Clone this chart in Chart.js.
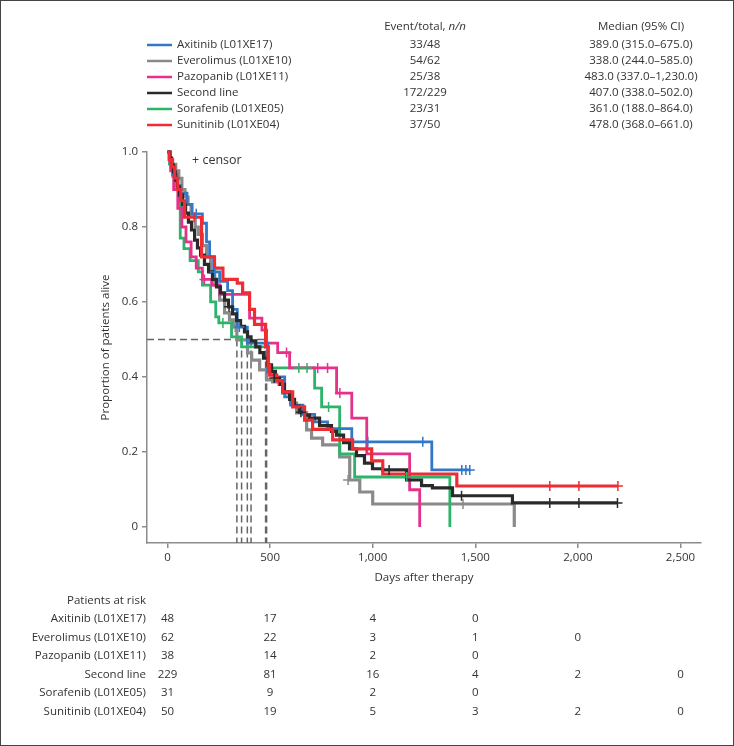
<!DOCTYPE html>
<html>
<head>
<meta charset="utf-8">
<script src="https://cdn.jsdelivr.net/npm/chart.js@4.4.1/dist/chart.umd.min.js"></script>
<style>
html, body { margin: 0; padding: 0; background: #fff; }
#wrap { position: relative; width: 734px; height: 746px; }
</style>
</head>
<body>
<div id="wrap"><canvas id="km" width="734" height="746"></canvas></div>
<script>
// groups, legend table and risk table
const groups = ['Axitinib (L01XE17)', 'Everolimus (L01XE10)', 'Pazopanib (L01XE11)', 'Second line', 'Sorafenib (L01XE05)', 'Sunitinib (L01XE04)'];
const eventsTotal = ['33/48', '54/62', '25/38', '172/229', '23/31', '37/50'];
const medianCI = ['389.0 (315.0\u2013675.0)', '338.0 (244.0\u2013585.0)', '483.0 (337.0\u20131,230.0)', '407.0 (338.0\u2013502.0)', '361.0 (188.0\u2013864.0)', '478.0 (368.0\u2013661.0)'];
const medianDays = [389, 338, 483, 407, 361, 478];
const xTicks = [0, 500, 1000, 1500, 2000, 2500];
const yTicks = [0, 0.2, 0.4, 0.6, 0.8, 1.0];
const atRisk = [
    [48, 17, 4, 0],
    [62, 22, 3, 1, 0],
    [38, 14, 2, 0],
    [229, 81, 16, 4, 2, 0],
    [31, 9, 2, 0],
    [50, 19, 5, 3, 2, 0]
];

// Kaplan-Meier steps [day, survival]
const axitinibKM = [[0,1],[12,0.97],[25,0.94],[45,0.91],[65,0.89],[95,0.86],[120,0.835],[170,0.81],[190,0.76],[205,0.72],[225,0.68],[254,0.655],[293,0.63],[317,0.58],[340,0.533],[389,0.49],[488,0.413],[520,0.40],[571,0.347],[600,0.325],[660,0.30],[717,0.28],[780,0.262],[898,0.227],[1288,0.152],[1473,0.152]];
const everolimusKM = [[0,1],[10,0.98],[25,0.967],[40,0.95],[55,0.93],[70,0.9],[85,0.88],[100,0.86],[115,0.83],[135,0.80],[150,0.78],[170,0.75],[190,0.72],[210,0.68],[230,0.645],[254,0.605],[278,0.571],[302,0.552],[320,0.533],[338,0.499],[390,0.464],[410,0.445],[449,0.419],[483,0.392],[512,0.387],[561,0.357],[600,0.33],[629,0.304],[678,0.259],[702,0.237],[756,0.219],[839,0.187],[888,0.125],[937,0.093],[1000,0.061],[1690,0]];
const pazopanibKM = [[0,1],[15,0.95],[30,0.9],[50,0.85],[70,0.8],[90,0.76],[115,0.72],[140,0.69],[170,0.66],[215,0.645],[255,0.62],[400,0.557],[460,0.525],[483,0.49],[537,0.465],[595,0.424],[824,0.357],[898,0.29],[971,0.195],[1180,0.099],[1229,0]];
const secondLineKM = [[0,1],[10,0.984],[20,0.965],[29,0.947],[39,0.925],[49,0.907],[58,0.885],[73,0.859],[88,0.837],[102,0.813],[117,0.792],[132,0.765],[146,0.744],[161,0.725],[180,0.70],[200,0.68],[219,0.66],[239,0.64],[258,0.624],[278,0.605],[297,0.587],[317,0.568],[336,0.55],[356,0.535],[375,0.52],[390,0.507],[407,0.496],[430,0.48],[450,0.465],[468,0.45],[487,0.432],[507,0.415],[526,0.397],[546,0.38],[570,0.36],[595,0.34],[619,0.322],[643,0.306],[668,0.298],[692,0.29],[741,0.27],[799,0.255],[824,0.245],[858,0.225],[887,0.208],[921,0.19],[960,0.17],[999,0.155],[1048,0.152],[1165,0.125],[1238,0.11],[1291,0.104],[1389,0.083],[1681,0.064],[2193,0.064]];
const sorafenibKM = [[0,1],[10,0.968],[25,0.935],[45,0.9],[55,0.87],[62,0.77],[80,0.742],[110,0.71],[150,0.68],[170,0.645],[210,0.6],[235,0.56],[250,0.544],[312,0.507],[361,0.48],[493,0.424],[717,0.37],[751,0.32],[839,0.195],[912,0.133],[1376,0]];
const sunitinibKM = [[0,1],[8,0.98],[20,0.96],[35,0.93],[50,0.9],[65,0.87],[83,0.826],[166,0.72],[229,0.69],[270,0.66],[340,0.65],[366,0.624],[400,0.58],[424,0.54],[478,0.48],[490,0.43],[498,0.405],[532,0.39],[561,0.36],[610,0.32],[668,0.285],[707,0.26],[805,0.232],[902,0.208],[995,0.176],[1049,0.141],[1410,0.109],[2195,0.109]];

// censored observations [day, survival]
const axitinibCens = [[140,0.835],[230,0.68],[350,0.533],[976,0.227],[1244,0.227],[1434,0.152],[1454,0.152],[1473,0.152]];
const everolimusCens = [[330,0.533],[880,0.125],[1440,0.061]];
const pazopanibCens = [[180,0.66],[580,0.465],[732,0.424],[780,0.424],[840,0.357]];
const secondLineCens = [[300,0.587],[520,0.397],[650,0.306],[1080,0.152],[1433,0.083],[1863,0.064],[2005,0.064],[2193,0.064]];
const sorafenibCens = [[270,0.544],[640,0.424],[680,0.424],[785,0.32],[1166,0.133]];
const sunitinibCens = [[130,0.826],[540,0.39],[1863,0.109],[2005,0.109],[2195,0.109]];

const kmSeries = [axitinibKM, everolimusKM, pazopanibKM, secondLineKM, sorafenibKM, sunitinibKM];
const censSeries = [axitinibCens, everolimusCens, pazopanibCens, secondLineCens, sorafenibCens, sunitinibCens];
const colors = ['#3278c6', '#8a8a8a', '#e6318b', '#2a2a2a', '#2bb46a', '#ee2c34'];
const widths = [2.8, 3.2, 2.8, 3.2, 2.8, 3.2];
const drawOrder = [3, 6, 4, 2, 5, 1];  // lower = on top

const FONT = '"Open Sans", "Noto Sans", sans-serif';
const FS = 11.5;
const TXT = '#333';
const toXY = arr => arr.map(p => ({ x: p[0], y: p[1] }));

const datasets = [];
kmSeries.forEach((s, i) => {
    datasets.push({
        type: 'line', data: toXY(s), stepped: true,
        borderColor: colors[i], borderWidth: widths[i], pointRadius: 0,
        fill: false, clip: false, order: drawOrder[i] + 1
    });
    datasets.push({
        type: 'line', data: toXY(censSeries[i]), showLine: false,
        pointStyle: 'cross', pointRadius: 5, pointBorderWidth: 1.5,
        pointBorderColor: colors[i], borderColor: colors[i], clip: false, order: 0
    });
});

// median reference lines
const xMin = -100, yMin = -0.043;
datasets.push({
    type: 'line', data: [{ x: xMin, y: 0.5 }, { x: Math.max(...medianDays), y: 0.5 }],
    borderColor: '#666', borderWidth: 1.5, borderDash: [7, 4], pointRadius: 0, order: 20
});
medianDays.forEach(m => {
    datasets.push({
        type: 'line', data: [{ x: m, y: 0.5 }, { x: m, y: yMin }],
        borderColor: '#666', borderWidth: 1.5, borderDash: [7, 4], pointRadius: 0, order: 20
    });
});

const tablesPlugin = {
    id: 'tables',
    afterDraw(chart) {
        const ctx = chart.ctx;
        const xs = chart.scales.x;
        const f = FS + 'px ' + FONT;
        ctx.save();
        ctx.fillStyle = TXT;
        ctx.textBaseline = 'middle';

        // header
        const head1 = 'Event/total, ';
        const head2 = 'n/n';
        ctx.font = f;
        const w1 = ctx.measureText(head1).width;
        ctx.font = 'italic ' + f;
        const w2 = ctx.measureText(head2).width;
        const hx = 425 - (w1 + w2) / 2;
        ctx.textAlign = 'left';
        ctx.font = f;
        ctx.fillText(head1, hx, 27);
        ctx.font = 'italic ' + f;
        ctx.fillText(head2, hx + w1, 27);
        ctx.font = f;
        ctx.textAlign = 'center';
        ctx.fillText('Median (95% CI)', 641, 27);

        groups.forEach((g, i) => {
            const y = 45 + 16 * i;
            ctx.strokeStyle = colors[i];
            ctx.lineWidth = 2.5;
            ctx.beginPath();
            ctx.moveTo(147, y);
            ctx.lineTo(172, y);
            ctx.stroke();
            ctx.textAlign = 'left';
            ctx.fillText(g, 177, y);
            ctx.textAlign = 'center';
            ctx.fillText(eventsTotal[i], 425, y);
            ctx.fillText(medianCI[i], 641, y);
        });

        // censor note
        ctx.textAlign = 'left';
        ctx.font = '12.5px ' + FONT;
        ctx.fillText('+ censor', 192, 160);

        // patients at risk
        ctx.font = f;
        ctx.textAlign = 'right';
        ctx.fillText('Patients at risk', 146, 601);
        groups.forEach((g, i) => {
            const y = 619 + 18.5 * i;
            ctx.textAlign = 'right';
            ctx.fillText(g, 146, y);
            ctx.textAlign = 'center';
            atRisk[i].forEach((n, j) => {
                ctx.fillText(String(n), xs.getPixelForValue(xTicks[j]), y);
            });
        });

        // frame
        ctx.strokeStyle = '#444';
        ctx.lineWidth = 1;
        ctx.strokeRect(0.5, 0.5, 733, 745);
        ctx.restore();
    }
};

const axisGray = '#8c8c8c';
new Chart(document.getElementById('km'), {
    type: 'line',
    data: { datasets: datasets },
    options: {
        responsive: false,
        animation: false,
        events: [],
        layout: { padding: { left: 95, top: 152, right: 33, bottom: 161 } },
        plugins: { legend: { display: false }, tooltip: { enabled: false } },
        scales: {
            x: {
                type: 'linear', min: xMin, max: 2600,
                afterBuildTicks: s => { s.ticks = xTicks.map(v => ({ value: v })); },
                afterFit: s => { s.height = 42; },
                ticks: { color: TXT, font: { family: FONT, size: FS }, padding: 3, maxRotation: 0, autoSkip: false,
                         callback: v => v.toLocaleString('en-US') },
                grid: { drawOnChartArea: false, tickLength: 5, color: axisGray, lineWidth: 1.5 },
                border: { color: axisGray, width: 1.5 },
                title: { display: true, text: 'Days after therapy', color: TXT, font: { family: FONT, size: FS }, padding: { top: 2, bottom: 0 } }
            },
            y: {
                type: 'linear', min: yMin, max: 1.0,
                afterBuildTicks: s => { s.ticks = yTicks.map(v => ({ value: v })); },
                afterFit: s => { s.width = 52; },
                ticks: { color: TXT, font: { family: FONT, size: FS }, padding: 4,
                         callback: v => v === 0 ? '0' : v.toFixed(1) },
                grid: { drawOnChartArea: false, tickLength: 5, color: axisGray, lineWidth: 1.5 },
                border: { color: axisGray, width: 1.5 },
                title: { display: true, text: 'Proportion of patients alive', color: TXT, font: { family: FONT, size: FS }, padding: 4 }
            }
        }
    },
    plugins: [tablesPlugin]
});
</script>
</body>
</html>
